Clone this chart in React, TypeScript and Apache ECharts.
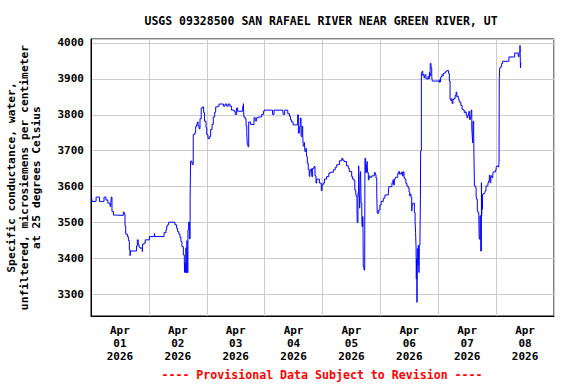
import React, { useEffect, useRef } from "react";
import * as echarts from "echarts";

// Hours since 2026-04-01 00:00 (local station time)
const hours: number[] = [
  0.25, 0.4, 2.1, 3.5, 5.4, 6.2, 7.0, 7.9, 8.2, 8.4, 8.7, 9.3, 10.0, 13.4, 13.8, 14.1, 14.4, 15.1, 15.5, 15.9,
  16.2, 16.4, 18.9, 19.2, 19.6, 19.9, 20.3, 21.3, 21.4, 22.0, 22.5, 24.2, 26.3, 26.5, 30.3, 31.1, 31.4, 31.8, 32.2, 34.8,
  35.5, 35.9, 36.4, 36.9, 37.3, 37.7, 38.3, 38.7, 38.8, 39.0, 39.3, 39.4, 39.5, 39.8, 39.9, 40.2, 40.5, 40.8, 41.1, 41.3,
  41.9, 42.4, 43.0, 43.4, 43.8, 44.1, 44.4, 44.8, 45.2, 45.7, 46.3, 46.7, 47.1, 47.7, 48.0, 48.5, 49.1, 49.6, 50.2, 50.7,
  51.3, 51.7, 52.5, 53.1, 54.9, 55.6, 56.3, 56.9, 57.6, 58.3, 59.3, 59.8, 60.4, 60.8, 62.9, 63.2, 63.4, 63.9, 64.3, 64.6,
  64.8, 65.1, 65.4, 66.2, 67.6, 68.1, 68.7, 69.4, 70.8, 71.5, 71.9, 74.9, 75.3, 75.9, 79.5, 79.7, 80.3, 81.6, 82.3, 82.7,
  83.2, 83.8, 85.7, 86.0, 86.4, 86.8, 87.1, 87.5, 87.8, 88.0, 88.5, 88.7, 89.2, 89.4, 89.7, 90.1, 90.5, 90.7, 90.9, 91.4,
  91.6, 91.9, 92.5, 92.9, 93.3, 93.6, 94.7, 95.5, 95.8, 96.3, 96.8, 97.7, 98.6, 99.1, 100.5, 101.3, 101.9, 103.0, 104.0, 104.4,
  104.9, 106.0, 106.7, 107.1, 108.1, 108.5, 109.1, 109.4, 109.8, 110.0, 110.3, 110.4, 110.7, 111.0, 111.1, 111.4, 111.6, 111.8, 112.0, 112.3,
  112.4, 112.7, 112.8, 112.9, 113.2, 113.5, 113.6, 113.9, 114.2, 114.5, 114.7, 115.0, 115.3, 115.6, 116.4, 117.5, 117.9, 118.2, 118.5, 118.7,
  119.3, 119.8, 120.3, 121.2, 121.9, 123.3, 123.5, 124.8, 125.2, 125.5, 125.8, 126.2, 127.2, 127.6, 127.9, 128.4, 128.6, 128.8, 129.1, 129.4,
  129.8, 130.2, 130.6, 131.0, 131.5, 131.9, 132.2, 132.4, 132.7, 133.0, 133.2, 133.5, 134.1, 134.4, 134.6, 134.8, 134.9, 135.1, 135.2, 135.3,
  135.6, 135.7, 136.0, 136.1, 136.4, 136.6, 136.7, 137.0, 137.3, 137.6, 137.8, 138.1, 138.4, 138.6, 138.9, 139.8, 140.0, 140.3, 140.6, 140.7,
  141.0, 141.3, 141.5, 144.3, 144.6, 144.9, 145.1, 145.6, 145.8, 146.1, 146.5, 147.1, 147.5, 148.3, 148.6, 148.9, 149.2, 149.6, 149.8, 150.1,
  150.5, 151.0, 151.4, 151.7, 151.9, 152.3, 152.6, 153.0, 153.4, 153.9, 154.4, 154.8, 155.2, 155.6, 155.9, 156.2, 156.5, 156.8, 157.0, 157.3,
  157.6, 157.9, 158.1, 158.3, 158.4, 158.7, 158.8, 159.0, 159.4, 159.7, 159.9, 160.2, 160.5, 160.8, 161.0, 161.3, 161.6, 161.9, 162.0, 162.1,
  162.3, 162.4, 162.7, 163.3, 163.5, 163.8, 164.3, 164.6, 164.9, 165.2, 165.5, 165.8, 166.0, 166.3, 166.6, 166.8, 167.7, 168.0, 168.2, 168.8,
  169.1, 169.2, 169.3, 169.5, 169.9, 170.3, 170.7, 173.3, 175.7, 177.1, 177.4, 177.6, 177.9, 178.1, 178.2, 178.4,
];

// Specific conductance, microsiemens per centimeter at 25 degrees Celsius
const conductance: number[] = [
  3571, 3559, 3571, 3559, 3571, 3563, 3554, 3545, 3552, 3571, 3531, 3521, 3520, 3529, 3524, 3490, 3468, 3461, 3450, 3424,
  3408, 3421, 3435, 3452, 3440, 3432, 3429, 3419, 3440, 3443, 3452, 3461, 3470, 3461, 3472, 3480, 3490, 3494, 3501, 3494,
  3484, 3475, 3468, 3459, 3447, 3433, 3410, 3396, 3361, 3387, 3361, 3430, 3361, 3450, 3361, 3480, 3501, 3455, 3568, 3671,
  3662, 3745, 3750, 3767, 3773, 3780, 3769, 3761, 3789, 3819, 3822, 3806, 3782, 3764, 3745, 3734, 3739, 3759, 3773, 3794,
  3807, 3822, 3824, 3830, 3824, 3830, 3824, 3830, 3824, 3813, 3810, 3801, 3819, 3810, 3824, 3831, 3794, 3789, 3769, 3750,
  3718, 3711, 3780, 3773, 3792, 3783, 3792, 3794, 3801, 3810, 3813, 3813, 3801, 3813, 3813, 3801, 3813, 3803, 3796, 3786,
  3780, 3772, 3800, 3749, 3768, 3791, 3740, 3768, 3745, 3713, 3723, 3698, 3707, 3684, 3665, 3647, 3630, 3628, 3647, 3650,
  3628, 3651, 3656, 3630, 3610, 3621, 3610, 3589, 3605, 3610, 3621, 3628, 3637, 3640, 3647, 3654, 3661, 3672, 3679, 3674,
  3670, 3658, 3651, 3642, 3628, 3621, 3617, 3591, 3582, 3573, 3540, 3500, 3582, 3658, 3573, 3540, 3633, 3642, 3554, 3517,
  3489, 3517, 3484, 3378, 3368, 3368, 3679, 3639, 3661, 3670, 3639, 3619, 3630, 3626, 3630, 3639, 3633, 3624, 3582, 3526,
  3535, 3549, 3559, 3568, 3577, 3582, 3600, 3610, 3619, 3605, 3621, 3626, 3637, 3642, 3635, 3637, 3635, 3641, 3630, 3641,
  3625, 3620, 3609, 3602, 3597, 3585, 3574, 3579, 3570, 3532, 3551, 3554, 3528, 3502, 3472, 3431, 3343, 3400, 3278, 3427,
  3381, 3436, 3361, 3436, 3445, 3565, 3700, 3917, 3921, 3909, 3912, 3903, 3909, 3912, 3900, 3907, 3900, 3917, 3907, 3943,
  3931, 3907, 3894, 3891, 3898, 3891, 3906, 3912, 3909, 3915, 3917, 3921, 3923, 3915, 3894, 3843, 3840, 3845, 3831, 3843,
  3845, 3854, 3863, 3850, 3852, 3845, 3838, 3834, 3826, 3815, 3813, 3806, 3808, 3799, 3792, 3797, 3804, 3810, 3787, 3794,
  3813, 3764, 3741, 3722, 3782, 3750, 3690, 3602, 3598, 3574, 3565, 3532, 3528, 3520, 3454, 3519, 3421, 3611, 3519, 3565,
  3537, 3579, 3581, 3583, 3588, 3602, 3602, 3611, 3616, 3632, 3611, 3622, 3630, 3625, 3634, 3641, 3646, 3653, 3657, 3655,
  3662, 3667, 3898, 3931, 3934, 3943, 3949, 3961, 3972, 3965, 3961, 3974, 3993, 3931, 3940, 3943,
];

const dayLabelHours: number[] = [12, 36, 60, 84, 108, 132, 156, 180];
const dayLabels: string[] = ["01", "02", "03", "04", "05", "06", "07", "08"];
const monthLabel = "Apr";
const yearLabel = "2026";

const titleText = "USGS 09328500 SAN RAFAEL RIVER NEAR GREEN RIVER, UT";
const footerText = "---- Provisional Data Subject to Revision ----";
const yAxisName = "Specific conductance, water,\nunfiltered, microsiemens per centimeter\nat 25 degrees Celsius";

const MONO = '"DejaVu Sans Mono", "Liberation Mono", monospace';

export default function App() {
  const ref = useRef<HTMLDivElement>(null);

  useEffect(() => {
    document.body.style.margin = "0";
    if (!ref.current) return;
    const chart = echarts.init(ref.current, undefined, { renderer: "svg" });
    const data = hours.map((h, i) => [h, conductance[i]]);
    chart.setOption({
      animation: false,
      backgroundColor: "#ffffff",
      grid: {
        left: 91,
        right: 22,
        top: 39,
        bottom: 68,
        containLabel: false,
        outerBoundsMode: "none",
        show: true,
        borderColor: "#000000",
        borderWidth: 1,
        backgroundColor: "transparent",
      },
      graphic: [
        {
          type: "text",
          x: 321,
          y: 20.5,
          style: {
            text: titleText,
            textAlign: "center",
            textVerticalAlign: "middle",
            font: `bold 11.5px ${MONO}`,
            fill: "#000000",
          },
        },
        {
          type: "text",
          x: 322,
          y: 375,
          style: {
            text: footerText,
            textAlign: "center",
            textVerticalAlign: "middle",
            font: `bold 11.6px ${MONO}`,
            fill: "#ff0000",
          },
        },
      ],
      xAxis: {
        type: "value",
        min: 0,
        max: 192,
        interval: 24,
        axisLine: { show: true, lineStyle: { color: "#000000", width: 1 } },
        axisTick: { show: false },
        splitLine: { show: true, lineStyle: { color: "#cccccc", width: 1 } },
        axisLabel: {
          customValues: dayLabelHours,
          interval: 0,
          margin: 8,
          lineHeight: 13,
          fontFamily: MONO,
          fontWeight: "bold",
          fontSize: 11,
          color: "#000000",
          formatter: (v: number) => {
            const idx = dayLabelHours.indexOf(v);
            return `${monthLabel}\n${idx >= 0 ? dayLabels[idx] : ""}\n${yearLabel}`;
          },
        },
      },
      yAxis: {
        type: "value",
        min: 3240,
        max: 4011,
        splitNumber: 8,
        minInterval: 100,
        maxInterval: 100,
        name: yAxisName,
        nameLocation: "middle",
        nameRotate: 90,
        nameGap: 48,
        nameTextStyle: {
          fontFamily: MONO,
          fontWeight: "bold",
          fontSize: 11.3,
          lineHeight: 12.5,
          color: "#000000",
          align: "center",
        },
        axisLine: { show: true, lineStyle: { color: "#000000", width: 1 } },
        axisTick: { show: false },
        splitLine: { show: true, lineStyle: { color: "#cccccc", width: 1 } },
        axisLabel: {
          margin: 7,
          fontFamily: MONO,
          fontWeight: "bold",
          fontSize: 11,
          color: "#000000",
          showMinLabel: false,
          showMaxLabel: false,
          formatter: (v: number) => (v % 100 === 0 ? String(v) : ""),
        },
      },
      series: [
        {
          type: "line",
          data,
          step: "end",
          showSymbol: false,
          symbol: "none",
          lineStyle: { color: "#0000ff", width: 1 },
          z: 3,
        },
      ],
    });
    return () => chart.dispose();
  }, []);

  return <div ref={ref} style={{ width: 576, height: 384 }} />;
}
